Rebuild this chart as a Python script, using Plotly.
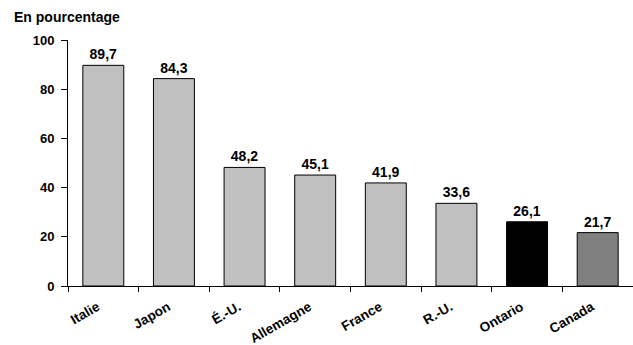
import plotly.graph_objects as go

# Share, in percent, by country
countries = ["Italie", "Japon", "É.-U.", "Allemagne", "France", "R.-U.", "Ontario", "Canada"]
values = [89.7, 84.3, 48.2, 45.1, 41.9, 33.6, 26.1, 21.7]
bar_colors = ["#C0C0C0"] * 6 + ["#000000", "#808080"]
y_ticks = [0, 20, 40, 60, 80, 100]

labels = [f"{v:.1f}".replace(".", ",") for v in values]

font_family = "Liberation Sans, Arial, sans-serif"

fig = go.Figure(
    go.Bar(
        x=countries,
        y=values,
        text=labels,
        textposition="outside",
        cliponaxis=False,
        textfont=dict(family=font_family, size=14, color="#000000", weight="bold"),
        marker=dict(color=bar_colors, line=dict(color="#000000", width=1)),
        width=0.58,
    )
)

fig.update_layout(
    width=633,
    height=345,
    margin=dict(l=68, r=0, t=40, b=59, autoexpand=False),
    paper_bgcolor="#FFFFFF",
    plot_bgcolor="#FFFFFF",
    showlegend=False,
    font=dict(family=font_family, color="#000000"),
    annotations=[
        dict(
            text="<b>En pourcentage</b>",
            xref="paper", yref="paper",
            x=-68 / 565 + 12 / 565, y=1,
            xanchor="left", yanchor="bottom",
            yshift=13,
            showarrow=False,
            font=dict(family=font_family, size=14, color="#000000"),
        )
    ],
)

fig.update_xaxes(
    type="category",
    automargin=False,
    showline=True,
    linecolor="#000000",
    linewidth=1,
    ticks="outside",
    tickson="boundaries",
    ticklen=5,
    tickcolor="#000000",
    tickangle=-30,
    ticklabelstandoff=7,
    ticklabelshift=-6,
    tickfont=dict(family=font_family, size=13.5, color="#000000", weight="bold"),
    showgrid=False,
)

fig.update_yaxes(
    range=[0, 100],
    automargin=False,
    tickvals=y_ticks,
    showline=True,
    linecolor="#000000",
    linewidth=1,
    ticks="outside",
    ticklen=6,
    tickcolor="#000000",
    ticklabelstandoff=4,
    tickfont=dict(family=font_family, size=13, color="#000000", weight="bold"),
    showgrid=False,
    zeroline=False,
)

fig.write_html("out.html")
